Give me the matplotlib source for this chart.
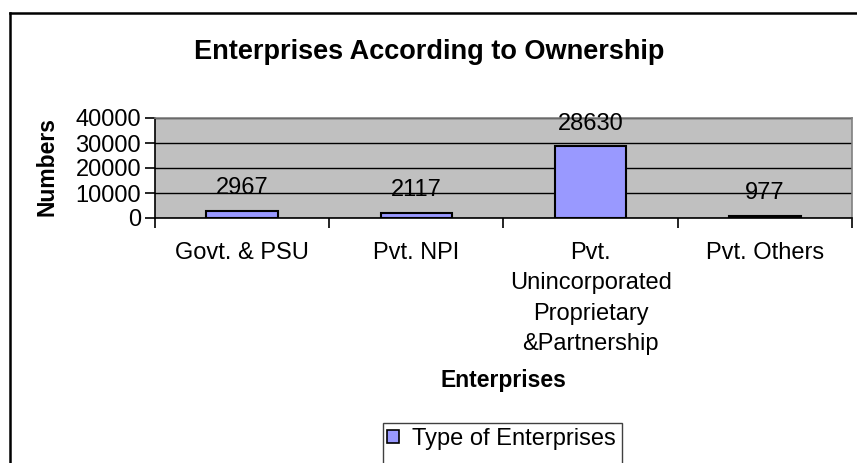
import matplotlib
matplotlib.use("Agg")
import matplotlib.pyplot as plt
from matplotlib.lines import Line2D
from matplotlib.patches import Patch, Rectangle

categories = ["Govt. & PSU", "Pvt. NPI",
              "Pvt.\nUnincorporated\nProprietary\n&Partnership", "Pvt. Others"]
values = [2967, 2117, 28630, 977]
yticks = [0, 10000, 20000, 30000, 40000]
series_name = "Type of Enterprises"

plt.rcParams['font.family'] = ['Liberation Sans', 'DejaVu Sans']

W, H = 857, 463
fig = plt.figure(figsize=(W / 100, H / 100), dpi=100)
ax = fig.add_axes([155 / W, 1 - 218 / H, (852 - 155) / W, (218 - 118) / H])
ax.set_facecolor('#C0C0C0')

x = list(range(len(categories)))
bars = ax.bar(x, values, width=0.41, color='#9999FF', edgecolor='black',
              linewidth=1.5, zorder=3, label=series_name)
for xi, v in zip(x, values):
    ax.annotate(f"{v}", (xi, v), xytext=(0, 12), textcoords='offset points',
                ha='center', va='baseline', fontsize=17, zorder=4)

ax.set_xlim(-0.5, len(categories) - 0.5)
ax.set_ylim(0, 40000)
ax.set_yticks(yticks)
ax.set_yticklabels([str(t) for t in yticks], fontsize=17)
ax.yaxis.grid(True, color='black', linewidth=1.0, zorder=1)
ax.set_axisbelow(True)

ax.set_xticks(x)
ax.set_xticklabels(categories, fontsize=17, linespacing=1.5, va='top')
ax.tick_params(axis='x', which='major', length=0, pad=17)
ax.set_xticks([i - 0.5 for i in range(len(categories) + 1)], minor=True)
ax.tick_params(axis='x', which='minor', length=7, width=1.2, direction='out')
ax.tick_params(axis='y', length=7, width=1.2, direction='out', pad=3)

for s in ['left', 'bottom']:
    ax.spines[s].set_color('black')
    ax.spines[s].set_linewidth(1.2)
for s in ['top', 'right']:
    ax.spines[s].set_color('#808080')
    ax.spines[s].set_linewidth(1.2)

fig.text(429 / W, 1 - 52 / H, "Enterprises According to Ownership",
         ha='center', va='center', fontsize=19.5, fontweight='bold')
fig.text(47 / W, 1 - 167 / H, "Numbers", rotation=90, ha='center', va='center',
         fontsize=16.5, fontweight='bold')
fig.text(503 / W, 1 - 381 / H, "Enterprises", ha='center', va='center',
         fontsize=16.5, fontweight='bold')

leg = fig.legend(handles=[Patch(facecolor='#9999FF', edgecolor='black', linewidth=1.2,
                                label=series_name)],
                 loc='center left', bbox_to_anchor=(387 / W, 1 - 439 / H),
                 fontsize=17, frameon=False, borderaxespad=0,
                 handlelength=0.5, handleheight=0.5, handletextpad=0.55,
                 borderpad=0.0)
fig.add_artist(Rectangle((383 / W, -0.05), (622 - 383) / W, 1 - 423 / H + 0.05,
                         transform=fig.transFigure, fill=False,
                         edgecolor='#404040', linewidth=1.0))

fig.add_artist(Line2D([10 / W, 10 / W], [0, 1 - 13 / H], transform=fig.transFigure,
                      color='black', linewidth=1.8))
fig.add_artist(Line2D([10 / W, 1], [1 - 13 / H, 1 - 13 / H], transform=fig.transFigure,
                      color='black', linewidth=1.8))

fig.savefig("out.png", dpi=100)
